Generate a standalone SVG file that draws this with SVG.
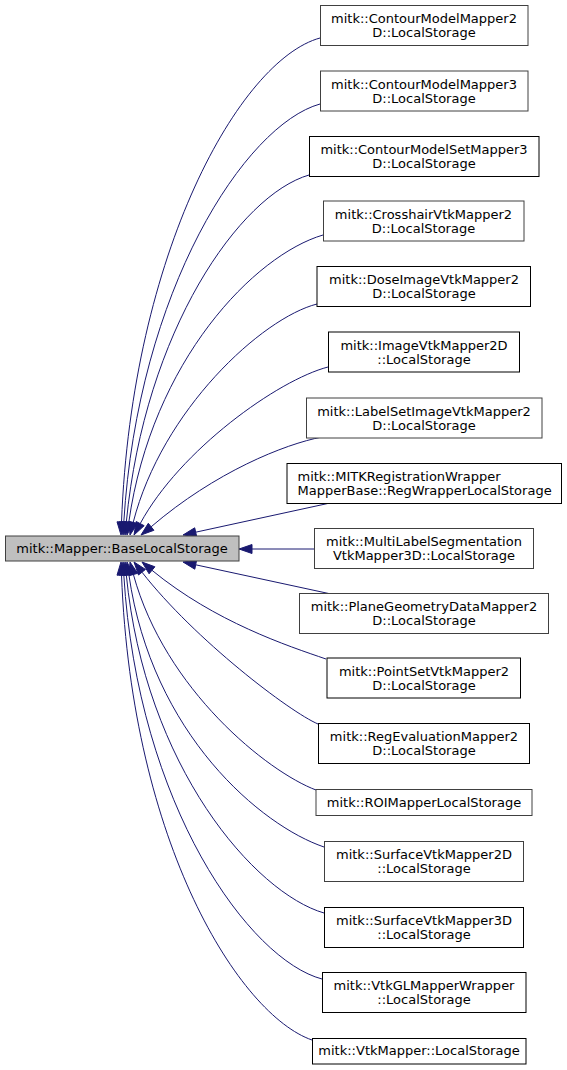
<svg xmlns="http://www.w3.org/2000/svg" width="567" height="1070" viewBox="0 0 567 1070">
<style>
text{font-family:"DejaVu Sans","Noto Sans",sans-serif;font-size:13px;fill:#000;text-anchor:middle}
.n rect{fill:#fff;stroke:#404040;stroke-width:1}
.n.b rect{stroke:#000}
.main rect{fill:#bfbfbf;stroke:#404040;stroke-width:1}
.e path{fill:none;stroke:#191970;stroke-width:1}
.e polygon{fill:#191970;stroke:#191970;stroke-width:1}
</style>
<rect width="567" height="1070" fill="#fff"/>
<g id="edges" class="e">
<path d="M320,38 C240,60 132,252 121.5,522"/><polygon points="121,535 117,521.8 126,522.2"/>
<path d="M320,104 C245,125 138,290 123.8,522"/><polygon points="123,535 119.3,521.7 128.3,522.3"/>
<path d="M309,175 C240,195 145,330 126.3,522.1"/><polygon points="125,535 121.8,521.7 130.8,522.5"/>
<path d="M323,235 C255,255 152,360 128.8,522.1"/><polygon points="127,535 124.3,521.5 133.3,522.7"/>
<path d="M317,304 C262,318 162,410 133.2,522.4"/><polygon points="130,535 128.8,521.3 137.6,523.5"/>
<path d="M328,367 C278,380 180,450 140.2,523.6"/><polygon points="134,535 136.2,521.5 144.2,525.7"/>
<path d="M322,437 C285,444 215,472 151.1,526.8"/><polygon points="141,535 148.3,523.3 153.9,530.3"/>
<path d="M330,503 L195.7,532.2"/><polygon points="183,535 194.7,527.8 196.7,536.6"/>
<path d="M314,549 L252,549"/><polygon points="239,549 252,544.5 252,553.5"/>
<path d="M331,594 L195.7,564.8"/><polygon points="183,562 196.6,560.3 194.8,569.2"/>
<path d="M326,659 C288,646 215,622 152,570.3"/><polygon points="142,562 154.9,566.8 149.1,573.8"/>
<path d="M318,724 C290,712 195,640 142,572.2"/><polygon points="134,562 145.5,569.4 138.5,575"/>
<path d="M316,790 C268,772 165,690 133.4,574.5"/><polygon points="130,562 137.7,573.3 129.1,575.7"/>
<path d="M324,847 C262,826 152,735 128.9,574.9"/><polygon points="127,562 133.4,574.3 124.4,575.5"/>
<path d="M324,913 C255,893 145,767 126.3,574.9"/><polygon points="125,562 130.8,574.5 121.8,575.3"/>
<path d="M322,979 C250,960 138,807 123.8,575"/><polygon points="123,562 128.3,574.7 119.3,575.3"/>
<path d="M312,1040 C240,1015 132,845 121.5,575"/><polygon points="121,562 126,574.8 117,575.2"/>
</g>
<g id="node-base" class="main"><rect x="5.5" y="536" width="233.5" height="25"/><text x="122" y="552.5">mitk::Mapper::BaseLocalStorage</text></g>
<g id="node-1" class="n"><rect x="320.5" y="5.5" width="207.5" height="40"/><text x="424" y="23">mitk::ContourModelMapper2</text><text x="424" y="37">D::LocalStorage</text></g>
<g id="node-2" class="n"><rect x="320.5" y="71" width="207.5" height="40"/><text x="424" y="88.5">mitk::ContourModelMapper3</text><text x="424" y="102.5">D::LocalStorage</text></g>
<g id="node-3" class="n b"><rect x="309.5" y="136.5" width="229.5" height="40"/><text x="424" y="154">mitk::ContourModelSetMapper3</text><text x="424" y="168">D::LocalStorage</text></g>
<g id="node-4" class="n"><rect x="323.5" y="201" width="200.5" height="40"/><text x="423.5" y="218.5">mitk::CrosshairVtkMapper2</text><text x="423.5" y="232.5">D::LocalStorage</text></g>
<g id="node-5" class="n b"><rect x="317" y="266.5" width="213.5" height="40"/><text x="424" y="284">mitk::DoseImageVtkMapper2</text><text x="424" y="298">D::LocalStorage</text></g>
<g id="node-6" class="n b"><rect x="328.5" y="332" width="191" height="40"/><text x="424" y="349.5">mitk::ImageVtkMapper2D</text><text x="424" y="363.5">::LocalStorage</text></g>
<g id="node-7" class="n"><rect x="306.5" y="398" width="235.5" height="40"/><text x="424" y="415.5">mitk::LabelSetImageVtkMapper2</text><text x="424" y="429.5">D::LocalStorage</text></g>
<g id="node-8" class="n b"><rect x="287" y="463.5" width="274.5" height="40"/><text x="297.5" y="481" style="text-anchor:start">mitk::MITKRegistrationWrapper</text><text x="297.5" y="495" style="text-anchor:start">MapperBase::RegWrapperLocalStorage</text></g>
<g id="node-9" class="n"><rect x="314.5" y="528.5" width="219" height="40"/><text x="424" y="546">mitk::MultiLabelSegmentation</text><text x="424" y="560">VtkMapper3D::LocalStorage</text></g>
<g id="node-10" class="n"><rect x="299.5" y="593.5" width="249" height="40"/><text x="424" y="611">mitk::PlaneGeometryDataMapper2</text><text x="424" y="625">D::LocalStorage</text></g>
<g id="node-11" class="n b"><rect x="327" y="658" width="193.5" height="40"/><text x="424" y="675.5">mitk::PointSetVtkMapper2</text><text x="424" y="689.5">D::LocalStorage</text></g>
<g id="node-12" class="n b"><rect x="318.5" y="723.5" width="211" height="40"/><text x="424" y="741">mitk::RegEvaluationMapper2</text><text x="424" y="755">D::LocalStorage</text></g>
<g id="node-13" class="n"><rect x="316" y="789.5" width="216" height="26"/><text x="424" y="806.5">mitk::ROIMapperLocalStorage</text></g>
<g id="node-14" class="n"><rect x="324.5" y="841.5" width="199" height="40"/><text x="424" y="859">mitk::SurfaceVtkMapper2D</text><text x="424" y="873">::LocalStorage</text></g>
<g id="node-15" class="n b"><rect x="324.5" y="907.5" width="199" height="40"/><text x="424" y="925">mitk::SurfaceVtkMapper3D</text><text x="424" y="939">::LocalStorage</text></g>
<g id="node-16" class="n b"><rect x="322.5" y="972.5" width="203.5" height="40"/><text x="424" y="990">mitk::VtkGLMapperWrapper</text><text x="424" y="1004">::LocalStorage</text></g>
<g id="node-17" class="n b"><rect x="312.5" y="1038.5" width="213.5" height="25.5"/><text x="419" y="1055">mitk::VtkMapper::LocalStorage</text></g>
</svg>
